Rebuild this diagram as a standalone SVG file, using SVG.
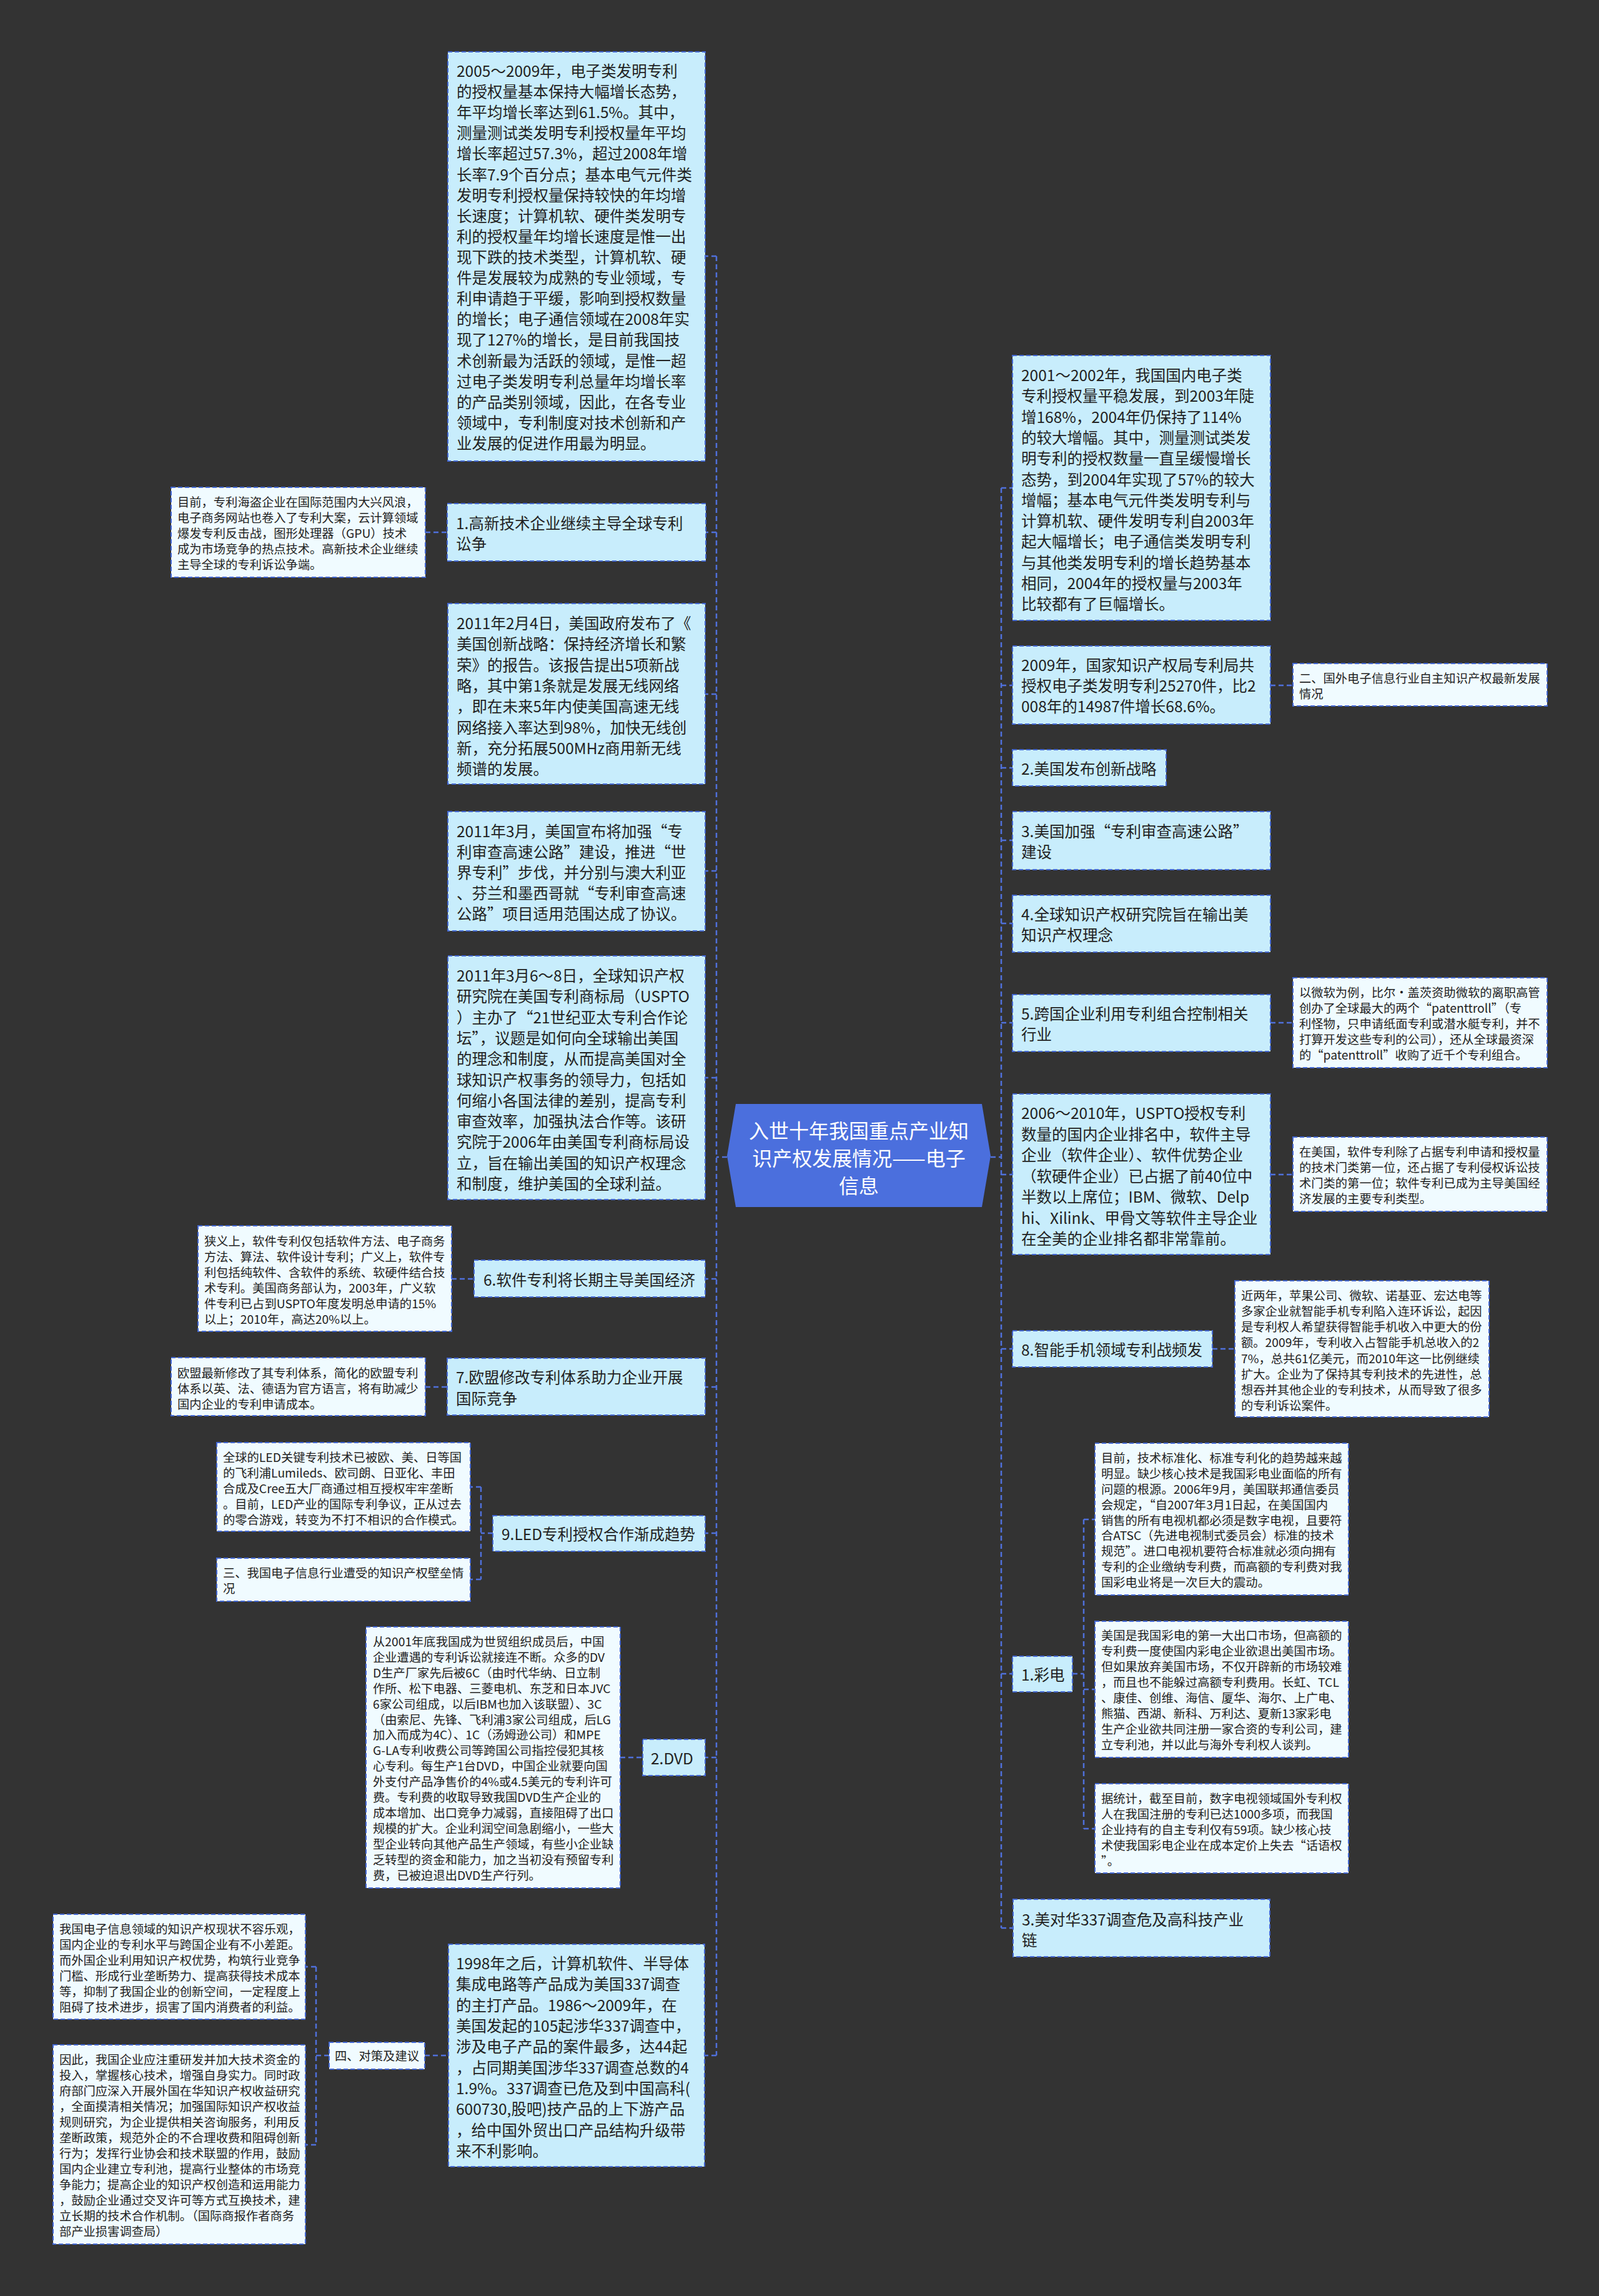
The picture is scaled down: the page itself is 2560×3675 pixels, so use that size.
<svg xmlns="http://www.w3.org/2000/svg" width="2560" height="3675" viewBox="0 0 2560 3675">
<style>
.bg{fill:#333333}
.m{fill:#c8edfc;stroke:#4468d2;stroke-width:2;stroke-dasharray:7 4}
.n{fill:#f0fbff;stroke:#4468d2;stroke-width:2;stroke-dasharray:7 4}
.c{fill:#4b6fdd}
.e{fill:none;stroke:#4f70db;stroke-width:2.5;stroke-dasharray:8 5}
text{font-family:"Noto Sans CJK SC","Noto Sans",sans-serif;dominant-baseline:central;fill:#222222}
.tm{font-size:24.5px}
.tn{font-size:19.3px}
.tc{font-size:32px;fill:#ffffff;text-anchor:middle}
</style>
<rect class="bg" x="0" y="0" width="2560" height="3675"/>
<g id="connectors">
<path class="e" d="M1164,1852H1147M1147,410V3290M1147,410H1129M1147,852H1130M1147,1111H1129M1147,1394H1129M1147,1725H1129M1147,2047H1129M1147,2220H1129M1147,2454H1129M1147,2813H1129M1147,3290H1128"/>
<path class="e" d="M681,852H716M723,2047H759M681,2220H716M993,2813H1029M789,2454H770M770,2380V2528M770,2380H753M770,2528H753M680,3290H718M527,3290H506M506,3148V3433M506,3148H489M506,3433H489"/>
<path class="e" d="M1586,1852H1603M1603,781V3086M1603,781H1621M1603,1097H1621M1603,1229H1621M1603,1345H1621M1603,1478H1621M1603,1637H1621M1603,1880H1621M1603,2159H1621M1603,2679H1621M1603,3086H1622"/>
<path class="e" d="M2034,1097H2070M2034,1637H2070M2034,1880H2070M1941,2159H1977M1717,2679H1735M1735,2432V2927M1735,2432H1753M1735,2704H1753M1735,2927H1753"/>
</g>
<g id="center">
<polygon class="c" points="1178,1767 1572,1767 1586,1850 1572,1932 1178,1932 1164,1850"/>
<text class="tc"><tspan x="1375" y="1808">入世十年我国重点产业知</tspan><tspan x="1375" y="1852">识产权发展情况——电子</tspan><tspan x="1375" y="1896">信息</tspan></text>
</g>
<g id="L1">
<rect class="m" x="717" y="83" width="412" height="655"/>
<text class="tm"><tspan x="731" y="112">2005～2009年，电子类发明专利</tspan><tspan x="731" y="145">的授权量基本保持大幅增长态势，</tspan><tspan x="731" y="178">年平均增长率达到61.5%。其中，</tspan><tspan x="731" y="211">测量测试类发明专利授权量年平均</tspan><tspan x="731" y="244">增长率超过57.3%，超过2008年增</tspan><tspan x="731" y="278">长率7.9个百分点；基本电气元件类</tspan><tspan x="731" y="311">发明专利授权量保持较快的年均增</tspan><tspan x="731" y="344">长速度；计算机软、硬件类发明专</tspan><tspan x="731" y="377">利的授权量年均增长速度是惟一出</tspan><tspan x="731" y="410">现下跌的技术类型，计算机软、硬</tspan><tspan x="731" y="443">件是发展较为成熟的专业领域，专</tspan><tspan x="731" y="476">利申请趋于平缓，影响到授权数量</tspan><tspan x="731" y="509">的增长；电子通信领域在2008年实</tspan><tspan x="731" y="542">现了127%的增长，是目前我国技</tspan><tspan x="731" y="576">术创新最为活跃的领域，是惟一超</tspan><tspan x="731" y="609">过电子类发明专利总量年均增长率</tspan><tspan x="731" y="642">的产品类别领域，因此，在各专业</tspan><tspan x="731" y="675">领域中，专利制度对技术创新和产</tspan><tspan x="731" y="708">业发展的促进作用最为明显。</tspan></text>
</g>
<g id="L1n">
<rect class="n" x="274" y="780" width="407" height="144"/>
<text class="tn"><tspan x="284" y="803">目前，专利海盗企业在国际范围内大兴风浪，</tspan><tspan x="284" y="828">电子商务网站也卷入了专利大案，云计算领域</tspan><tspan x="284" y="853">爆发专利反击战，图形处理器（GPU）技术</tspan><tspan x="284" y="878">成为市场竞争的热点技术。高新技术企业继续</tspan><tspan x="284" y="903">主导全球的专利诉讼争端。</tspan></text>
</g>
<g id="L1b">
<rect class="m" x="716" y="806" width="414" height="92"/>
<text class="tm"><tspan x="730" y="836">1.高新技术企业继续主导全球专利</tspan><tspan x="730" y="869">讼争</tspan></text>
</g>
<g id="L2">
<rect class="m" x="717" y="966" width="412" height="289"/>
<text class="tm"><tspan x="731" y="996">2011年2月4日，美国政府发布了《</tspan><tspan x="731" y="1029">美国创新战略：保持经济增长和繁</tspan><tspan x="731" y="1063">荣》的报告。该报告提出5项新战</tspan><tspan x="731" y="1096">略，其中第1条就是发展无线网络</tspan><tspan x="731" y="1129">，即在未来5年内使美国高速无线</tspan><tspan x="731" y="1163">网络接入率达到98%，加快无线创</tspan><tspan x="731" y="1196">新，充分拓展500MHz商用新无线</tspan><tspan x="731" y="1229">频谱的发展。</tspan></text>
</g>
<g id="L3">
<rect class="m" x="717" y="1299" width="412" height="191"/>
<text class="tm"><tspan x="731" y="1329">2011年3月，美国宣布将加强“专</tspan><tspan x="731" y="1362">利审查高速公路”建设，推进“世</tspan><tspan x="731" y="1395">界专利”步伐，并分别与澳大利亚</tspan><tspan x="731" y="1428">、芬兰和墨西哥就“专利审查高速</tspan><tspan x="731" y="1461">公路”项目适用范围达成了协议。</tspan></text>
</g>
<g id="L4">
<rect class="m" x="717" y="1530" width="412" height="390"/>
<text class="tm"><tspan x="731" y="1560">2011年3月6～8日，全球知识产权</tspan><tspan x="731" y="1593">研究院在美国专利商标局（USPTO</tspan><tspan x="731" y="1627">）主办了“21世纪亚太专利合作论</tspan><tspan x="731" y="1660">坛”，议题是如何向全球输出美国</tspan><tspan x="731" y="1693">的理念和制度，从而提高美国对全</tspan><tspan x="731" y="1727">球知识产权事务的领导力，包括如</tspan><tspan x="731" y="1760">何缩小各国法律的差别，提高专利</tspan><tspan x="731" y="1793">审查效率，加强执法合作等。该研</tspan><tspan x="731" y="1826">究院于2006年由美国专利商标局设</tspan><tspan x="731" y="1860">立，旨在输出美国的知识产权理念</tspan><tspan x="731" y="1893">和制度，维护美国的全球利益。</tspan></text>
</g>
<g id="L6">
<rect class="m" x="759" y="2017" width="370" height="59"/>
<text class="tm"><tspan x="774" y="2047">6.软件专利将长期主导美国经济</tspan></text>
</g>
<g id="L6n">
<rect class="n" x="317" y="1962" width="406" height="169"/>
<text class="tn"><tspan x="327" y="1986">狭义上，软件专利仅包括软件方法、电子商务</tspan><tspan x="327" y="2011">方法、算法、软件设计专利；广义上，软件专</tspan><tspan x="327" y="2036">利包括纯软件、含软件的系统、软硬件结合技</tspan><tspan x="327" y="2061">术专利。美国商务部认为，2003年，广义软</tspan><tspan x="327" y="2086">件专利已占到USPTO年度发明总申请的15%</tspan><tspan x="327" y="2111">以上；2010年，高达20%以上。</tspan></text>
</g>
<g id="L7">
<rect class="m" x="716" y="2174" width="413" height="91"/>
<text class="tm"><tspan x="730" y="2203">7.欧盟修改专利体系助力企业开展</tspan><tspan x="730" y="2237">国际竞争</tspan></text>
</g>
<g id="L7n">
<rect class="n" x="274" y="2173" width="407" height="93"/>
<text class="tn"><tspan x="284" y="2197">欧盟最新修改了其专利体系，简化的欧盟专利</tspan><tspan x="284" y="2222">体系以英、法、德语为官方语言，将有助减少</tspan><tspan x="284" y="2247">国内企业的专利申请成本。</tspan></text>
</g>
<g id="L9">
<rect class="m" x="789" y="2426" width="340" height="57"/>
<text class="tm"><tspan x="803" y="2454">9.LED专利授权合作渐成趋势</tspan></text>
</g>
<g id="L9n1">
<rect class="n" x="347" y="2309" width="406" height="142"/>
<text class="tn"><tspan x="357" y="2332">全球的LED关键专利技术已被欧、美、日等国</tspan><tspan x="357" y="2357">的飞利浦Lumileds、欧司朗、日亚化、丰田</tspan><tspan x="357" y="2382">合成及Cree五大厂商通过相互授权牢牢垄断</tspan><tspan x="357" y="2407">。目前，LED产业的国际专利争议，正从过去</tspan><tspan x="357" y="2432">的零合游戏，转变为不打不相识的合作模式。</tspan></text>
</g>
<g id="L9n2">
<rect class="n" x="347" y="2494" width="406" height="69"/>
<text class="tn"><tspan x="357" y="2517">三、我国电子信息行业遭受的知识产权壁垒情</tspan><tspan x="357" y="2542">况</tspan></text>
</g>
<g id="LD">
<rect class="m" x="1029" y="2784" width="100" height="58"/>
<text class="tm"><tspan x="1042" y="2813">2.DVD</tspan></text>
</g>
<g id="LDn">
<rect class="n" x="586" y="2604" width="407" height="418"/>
<text class="tn"><tspan x="597" y="2627">从2001年底我国成为世贸组织成员后，中国</tspan><tspan x="597" y="2652">企业遭遇的专利诉讼就接连不断。众多的DV</tspan><tspan x="597" y="2677">D生产厂家先后被6C（由时代华纳、日立制</tspan><tspan x="597" y="2702">作所、松下电器、三菱电机、东芝和日本JVC</tspan><tspan x="597" y="2727">6家公司组成，以后IBM也加入该联盟）、3C</tspan><tspan x="597" y="2752">（由索尼、先锋、飞利浦3家公司组成，后LG</tspan><tspan x="597" y="2776">加入而成为4C）、1C（汤姆逊公司）和MPE</tspan><tspan x="597" y="2801">G-LA专利收费公司等跨国公司指控侵犯其核</tspan><tspan x="597" y="2826">心专利。每生产1台DVD，中国企业就要向国</tspan><tspan x="597" y="2851">外支付产品净售价的4%或4.5美元的专利许可</tspan><tspan x="597" y="2876">费。专利费的收取导致我国DVD生产企业的</tspan><tspan x="597" y="2901">成本增加、出口竞争力减弱，直接阻碍了出口</tspan><tspan x="597" y="2926">规模的扩大。企业利润空间急剧缩小，一些大</tspan><tspan x="597" y="2951">型企业转向其他产品生产领域，有些小企业缺</tspan><tspan x="597" y="2976">乏转型的资金和能力，加之当初没有预留专利</tspan><tspan x="597" y="3001">费，已被迫退出DVD生产行列。</tspan></text>
</g>
<g id="L98">
<rect class="m" x="718" y="3112" width="410" height="356"/>
<text class="tm"><tspan x="730" y="3141">1998年之后，计算机软件、半导体</tspan><tspan x="730" y="3174">集成电路等产品成为美国337调查</tspan><tspan x="730" y="3208">的主打产品。1986～2009年，在</tspan><tspan x="730" y="3241">美国发起的105起涉华337调查中，</tspan><tspan x="730" y="3274">涉及电子产品的案件最多，达44起</tspan><tspan x="730" y="3308">，占同期美国涉华337调查总数的4</tspan><tspan x="730" y="3341">1.9%。337调查已危及到中国高科(</tspan><tspan x="730" y="3374">600730,股吧)技产品的上下游产品</tspan><tspan x="730" y="3408">，给中国外贸出口产品结构升级带</tspan><tspan x="730" y="3441">来不利影响。</tspan></text>
</g>
<g id="L4s">
<rect class="n" x="527" y="3269" width="153" height="43"/>
<text class="tn"><tspan x="536" y="3290">四、对策及建议</tspan></text>
</g>
<g id="L4n1">
<rect class="n" x="85" y="3064" width="404" height="168"/>
<text class="tn"><tspan x="95" y="3087">我国电子信息领域的知识产权现状不容乐观，</tspan><tspan x="95" y="3112">国内企业的专利水平与跨国企业有不小差距。</tspan><tspan x="95" y="3137">而外国企业利用知识产权优势，构筑行业竞争</tspan><tspan x="95" y="3162">门槛、形成行业垄断势力、提高获得技术成本</tspan><tspan x="95" y="3187">等，抑制了我国企业的创新空间，一定程度上</tspan><tspan x="95" y="3212">阻碍了技术进步，损害了国内消费者的利益。</tspan></text>
</g>
<g id="L4n2">
<rect class="n" x="85" y="3273" width="404" height="319"/>
<text class="tn"><tspan x="95" y="3296">因此，我国企业应注重研发并加大技术资金的</tspan><tspan x="95" y="3321">投入，掌握核心技术，增强自身实力。同时政</tspan><tspan x="95" y="3346">府部门应深入开展外国在华知识产权收益研究</tspan><tspan x="95" y="3371">，全面摸清相关情况；加强国际知识产权收益</tspan><tspan x="95" y="3396">规则研究，为企业提供相关咨询服务，利用反</tspan><tspan x="95" y="3421">垄断政策，规范外企的不合理收费和阻碍创新</tspan><tspan x="95" y="3446">行为；发挥行业协会和技术联盟的作用，鼓励</tspan><tspan x="95" y="3471">国内企业建立专利池，提高行业整体的市场竞</tspan><tspan x="95" y="3496">争能力；提高企业的知识产权创造和运用能力</tspan><tspan x="95" y="3521">，鼓励企业通过交叉许可等方式互换技术，建</tspan><tspan x="95" y="3546">立长期的技术合作机制。（国际商报作者商务</tspan><tspan x="95" y="3571">部产业损害调查局）</tspan></text>
</g>
<g id="R1">
<rect class="m" x="1621" y="569" width="413" height="424"/>
<text class="tm"><tspan x="1635" y="599">2001～2002年，我国国内电子类</tspan><tspan x="1635" y="632">专利授权量平稳发展，到2003年陡</tspan><tspan x="1635" y="666">增168%，2004年仍保持了114%</tspan><tspan x="1635" y="699">的较大增幅。其中，测量测试类发</tspan><tspan x="1635" y="732">明专利的授权数量一直呈缓慢增长</tspan><tspan x="1635" y="766">态势，到2004年实现了57%的较大</tspan><tspan x="1635" y="799">增幅；基本电气元件类发明专利与</tspan><tspan x="1635" y="832">计算机软、硬件发明专利自2003年</tspan><tspan x="1635" y="865">起大幅增长；电子通信类发明专利</tspan><tspan x="1635" y="899">与其他类发明专利的增长趋势基本</tspan><tspan x="1635" y="932">相同，2004年的授权量与2003年</tspan><tspan x="1635" y="965">比较都有了巨幅增长。</tspan></text>
</g>
<g id="R2">
<rect class="m" x="1621" y="1034" width="413" height="125"/>
<text class="tm"><tspan x="1635" y="1063">2009年，国家知识产权局专利局共</tspan><tspan x="1635" y="1096">授权电子类发明专利25270件，比2</tspan><tspan x="1635" y="1129">008年的14987件增长68.6%。</tspan></text>
</g>
<g id="R2n">
<rect class="n" x="2070" y="1062" width="407" height="68"/>
<text class="tn"><tspan x="2080" y="1085">二、国外电子信息行业自主知识产权最新发展</tspan><tspan x="2080" y="1110">情况</tspan></text>
</g>
<g id="R3">
<rect class="m" x="1621" y="1200" width="246" height="58"/>
<text class="tm"><tspan x="1635" y="1229">2.美国发布创新战略</tspan></text>
</g>
<g id="R4">
<rect class="m" x="1621" y="1299" width="413" height="93"/>
<text class="tm"><tspan x="1635" y="1329">3.美国加强“专利审查高速公路”</tspan><tspan x="1635" y="1362">建设</tspan></text>
</g>
<g id="R5">
<rect class="m" x="1621" y="1433" width="413" height="91"/>
<text class="tm"><tspan x="1635" y="1462">4.全球知识产权研究院旨在输出美</tspan><tspan x="1635" y="1495">知识产权理念</tspan></text>
</g>
<g id="R6">
<rect class="m" x="1621" y="1592" width="413" height="91"/>
<text class="tm"><tspan x="1635" y="1621">5.跨国企业利用专利组合控制相关</tspan><tspan x="1635" y="1654">行业</tspan></text>
</g>
<g id="R6n">
<rect class="n" x="2070" y="1565" width="407" height="144"/>
<text class="tn"><tspan x="2080" y="1588">以微软为例，比尔·盖茨资助微软的离职高管</tspan><tspan x="2080" y="1613">创办了全球最大的两个“patenttroll”（专</tspan><tspan x="2080" y="1638">利怪物，只申请纸面专利或潜水艇专利，并不</tspan><tspan x="2080" y="1663">打算开发这些专利的公司），还从全球最资深</tspan><tspan x="2080" y="1688">的“patenttroll”收购了近千个专利组合。</tspan></text>
</g>
<g id="R7">
<rect class="m" x="1621" y="1751" width="413" height="257"/>
<text class="tm"><tspan x="1635" y="1780">2006～2010年，USPTO授权专利</tspan><tspan x="1635" y="1814">数量的国内企业排名中，软件主导</tspan><tspan x="1635" y="1847">企业（软件企业）、软件优势企业</tspan><tspan x="1635" y="1881">（软硬件企业）已占据了前40位中</tspan><tspan x="1635" y="1914">半数以上席位；IBM、微软、Delp</tspan><tspan x="1635" y="1948">hi、Xilink、甲骨文等软件主导企业</tspan><tspan x="1635" y="1981">在全美的企业排名都非常靠前。</tspan></text>
</g>
<g id="R7n">
<rect class="n" x="2070" y="1820" width="407" height="119"/>
<text class="tn"><tspan x="2080" y="1843">在美国，软件专利除了占据专利申请和授权量</tspan><tspan x="2080" y="1868">的技术门类第一位，还占据了专利侵权诉讼技</tspan><tspan x="2080" y="1893">术门类的第一位；软件专利已成为主导美国经</tspan><tspan x="2080" y="1918">济发展的主要专利类型。</tspan></text>
</g>
<g id="R8">
<rect class="m" x="1621" y="2130" width="320" height="58"/>
<text class="tm"><tspan x="1635" y="2159">8.智能手机领域专利战频发</tspan></text>
</g>
<g id="R8n">
<rect class="n" x="1977" y="2050" width="407" height="218"/>
<text class="tn"><tspan x="1987" y="2073">近两年，苹果公司、微软、诺基亚、宏达电等</tspan><tspan x="1987" y="2098">多家企业就智能手机专利陷入连环诉讼，起因</tspan><tspan x="1987" y="2123">是专利权人希望获得智能手机收入中更大的份</tspan><tspan x="1987" y="2148">额。2009年，专利收入占智能手机总收入的2</tspan><tspan x="1987" y="2174">7%，总共61亿美元，而2010年这一比例继续</tspan><tspan x="1987" y="2199">扩大。企业为了保持其专利技术的先进性，总</tspan><tspan x="1987" y="2224">想吞并其他企业的专利技术，从而导致了很多</tspan><tspan x="1987" y="2249">的专利诉讼案件。</tspan></text>
</g>
<g id="R9">
<rect class="m" x="1621" y="2651" width="96" height="57"/>
<text class="tm"><tspan x="1635" y="2679">1.彩电</tspan></text>
</g>
<g id="R9n1">
<rect class="n" x="1753" y="2310" width="406" height="243"/>
<text class="tn"><tspan x="1763" y="2333">目前，技术标准化、标准专利化的趋势越来越</tspan><tspan x="1763" y="2358">明显。缺少核心技术是我国彩电业面临的所有</tspan><tspan x="1763" y="2383">问题的根源。2006年9月，美国联邦通信委员</tspan><tspan x="1763" y="2408">会规定，“自2007年3月1日起，在美国国内</tspan><tspan x="1763" y="2433">销售的所有电视机都必须是数字电视，且要符</tspan><tspan x="1763" y="2457">合ATSC（先进电视制式委员会）标准的技术</tspan><tspan x="1763" y="2482">规范”。进口电视机要符合标准就必须向拥有</tspan><tspan x="1763" y="2507">专利的企业缴纳专利费，而高额的专利费对我</tspan><tspan x="1763" y="2532">国彩电业将是一次巨大的震动。</tspan></text>
</g>
<g id="R9n2">
<rect class="n" x="1753" y="2595" width="406" height="218"/>
<text class="tn"><tspan x="1763" y="2617">美国是我国彩电的第一大出口市场，但高额的</tspan><tspan x="1763" y="2642">专利费一度使国内彩电企业欲退出美国市场。</tspan><tspan x="1763" y="2667">但如果放弃美国市场，不仅开辟新的市场较难</tspan><tspan x="1763" y="2692">，而且也不能躲过高额专利费用。长虹、TCL</tspan><tspan x="1763" y="2717">、康佳、创维、海信、厦华、海尔、上广电、</tspan><tspan x="1763" y="2742">熊猫、西湖、新科、万利达、夏新13家彩电</tspan><tspan x="1763" y="2767">生产企业欲共同注册一家合资的专利公司，建</tspan><tspan x="1763" y="2792">立专利池，并以此与海外专利权人谈判。</tspan></text>
</g>
<g id="R9n3">
<rect class="n" x="1753" y="2855" width="406" height="143"/>
<text class="tn"><tspan x="1763" y="2878">据统计，截至目前，数字电视领域国外专利权</tspan><tspan x="1763" y="2903">人在我国注册的专利已达1000多项，而我国</tspan><tspan x="1763" y="2928">企业持有的自主专利仅有59项。缺少核心技</tspan><tspan x="1763" y="2953">术使我国彩电企业在成本定价上失去“话语权</tspan><tspan x="1763" y="2978">”。</tspan></text>
</g>
<g id="R10">
<rect class="m" x="1622" y="3040" width="411" height="92"/>
<text class="tm"><tspan x="1636" y="3071">3.美对华337调查危及高科技产业</tspan><tspan x="1636" y="3104">链</tspan></text>
</g>
</svg>
